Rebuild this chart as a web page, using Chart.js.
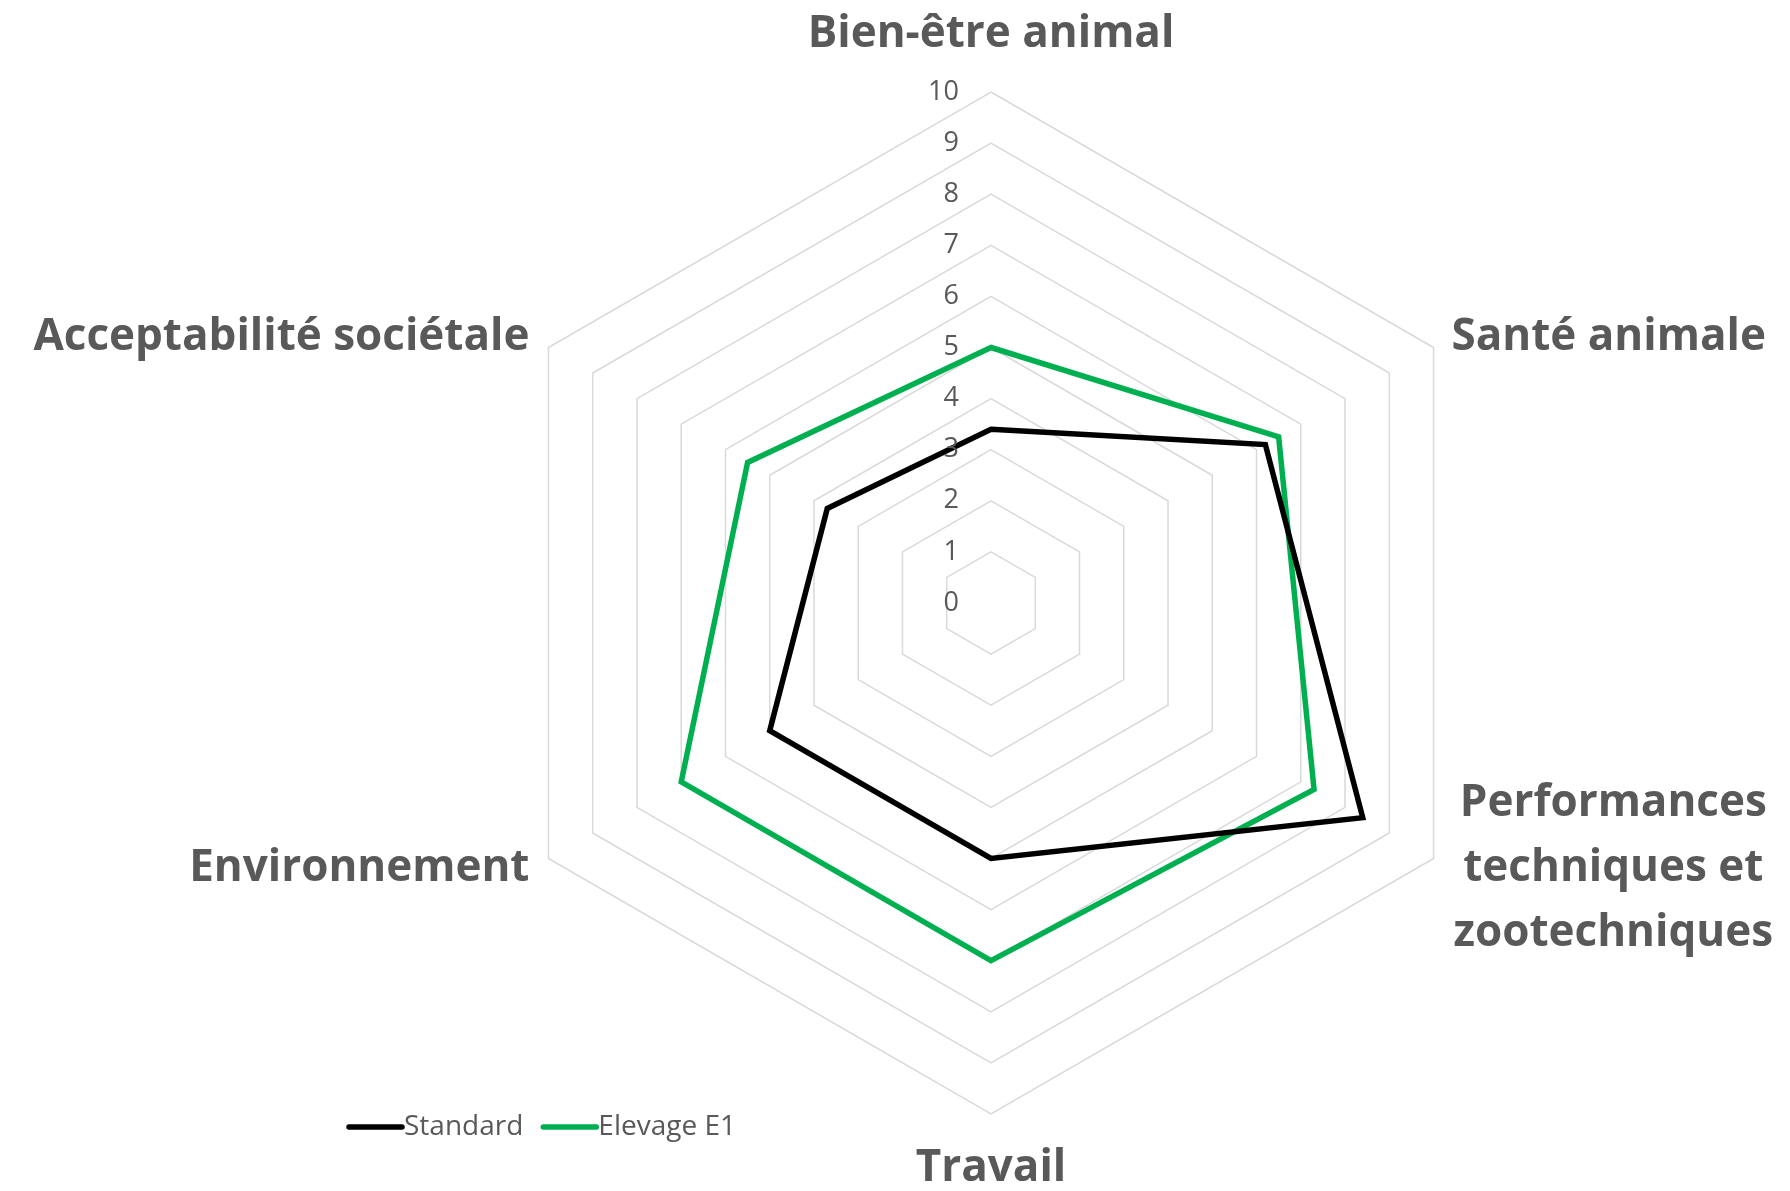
<!DOCTYPE html>
<html>
<head>
<meta charset="utf-8">
<script src="https://cdn.jsdelivr.net/npm/chart.js@4.4.0/dist/chart.umd.min.js"></script>
<style>
  body { margin: 0; background: #fff; }
  #wrap { width: 1790px; height: 1191px; }
</style>
</head>
<body>
<div id="wrap"><canvas id="radar" width="1790" height="1191"></canvas></div>
<script>
var categories = ["Bien-être animal", "Santé animale", ["Performances", "techniques et", "zootechniques"], "Travail", "Environnement", "Acceptabilité sociétale"];
var standardValues = [3.4, 6.2, 8.4, 5.0, 5.0, 3.7];
var elevageValues = [5.0, 6.5, 7.3, 7.0, 7.0, 5.5];
var tickValues = [0, 1, 2, 3, 4, 5, 6, 7, 8, 9, 10];

var textColor = "#595959";

// axis labels, tick numbers and legend drawn like the Excel original
var labelPlugin = {
	id: "sideLabels",
	afterDraw: function(chart) {
		var scale = chart.scales.r;
		var ctx = chart.ctx;
		ctx.save();
		ctx.fillStyle = textColor;

		ctx.font = "27px 'Open Sans'";
		ctx.textAlign = "right";
		ctx.textBaseline = "middle";
		tickValues.forEach(function(v) {
			var d = scale.getDistanceFromCenterForValue(v);
			ctx.fillText(String(v), scale.xCenter - 32, scale.yCenter - d);
		});

		ctx.font = "bold 44px 'Open Sans'";
		var lineH = 65;
		categories.forEach(function(label, i) {
			var p = scale.getPointPosition(i, scale.drawingArea);
			var lines = Array.isArray(label) ? label : [label];
			var dx = p.x - scale.xCenter;
			var dy = p.y - scale.yCenter;
			var x, y;
			if (Math.abs(dx) < 1) {
				ctx.textAlign = "center";
				x = p.x;
				y = dy < 0 ? p.y - 58 : p.y + 54;
			} else {
				y = p.y + (dy < 0 ? -10 : 10);
				if (dx > 0) {
					var w = Math.max.apply(null, lines.map(function(t) { return ctx.measureText(t).width; }));
					if (lines.length > 1) {
						ctx.textAlign = "center";
						x = p.x + 20 + w / 2;
					} else {
						ctx.textAlign = "left";
						x = p.x + 18;
					}
				} else {
					ctx.textAlign = "right";
					x = p.x - 19;
				}
			}
			var top = y - (lines.length - 1) * lineH / 2;
			lines.forEach(function(t, k) {
				ctx.fillText(t, x, top + k * lineH);
			});
		});

		// legend
		ctx.font = "28px 'Open Sans'";
		ctx.textAlign = "left";
		ctx.lineCap = "round";
		ctx.lineWidth = 5.5;
		var lx = 349, ly = 1127;
		chart.data.datasets.forEach(function(ds) {
			ctx.strokeStyle = ds.borderColor;
			ctx.beginPath();
			ctx.moveTo(lx, ly);
			ctx.lineTo(lx + 53, ly);
			ctx.stroke();
			ctx.fillText(ds.label, lx + 55, ly);
			lx += 55 + ctx.measureText(ds.label).width + 20;
		});
		ctx.restore();
	}
};

new Chart(document.getElementById("radar"), {
	type: "radar",
	data: {
		labels: categories,
		datasets: [
			{
				label: "Standard",
				data: standardValues,
				borderColor: "#000000",
				backgroundColor: "rgba(0,0,0,0)",
				borderWidth: 5.5,
				pointRadius: 0,
				fill: false
			},
			{
				label: "Elevage E1",
				data: elevageValues,
				borderColor: "#00B050",
				backgroundColor: "rgba(0,0,0,0)",
				borderWidth: 5.5,
				pointRadius: 0,
				fill: false
			}
		]
	},
	options: {
		responsive: false,
		animation: false,
		layout: { padding: { left: 391, right: 199, top: 92, bottom: 77 } },
		plugins: {
			legend: { display: false },
			tooltip: { enabled: false }
		},
		elements: { line: { tension: 0 } },
		scales: {
			r: {
				min: 0,
				max: 10,
				ticks: { stepSize: 1, display: false },
				grid: { color: "#d9d9d9", lineWidth: 1.5 },
				angleLines: { display: false },
				pointLabels: { display: false }
			}
		}
	},
	plugins: [labelPlugin]
});
</script>
</body>
</html>
